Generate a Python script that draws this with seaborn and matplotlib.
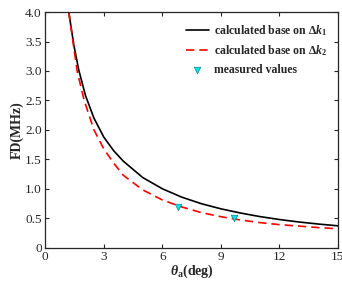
import pandas as pd
import matplotlib
matplotlib.use('Agg')
import matplotlib.pyplot as plt
import seaborn as sns

# curves: calculated base on dk1 (black) and dk2 (red)
theta_k1 = [1.21, 1.47, 1.72, 2.07, 2.5, 3.0, 3.5, 4.0, 5.0, 6.0, 7.0, 8.0, 9.0, 10.0, 11.0, 12.0, 13.0, 14.0, 15.0]
fd_k1 = [4.0, 3.44, 3.02, 2.58, 2.2, 1.88, 1.65, 1.47, 1.19, 1.0, 0.857, 0.746, 0.659, 0.588, 0.527, 0.477, 0.435, 0.40, 0.37]

theta_k2 = [1.21, 1.64, 2.0, 2.5, 3.0, 3.5, 4.0, 5.0, 6.0, 7.0, 8.0, 9.0, 10.0, 11.0, 12.0, 13.0, 14.0, 15.0]
fd_k2 = [4.0, 3.0, 2.5, 2.0, 1.68, 1.44, 1.23, 0.98, 0.81, 0.69, 0.595, 0.525, 0.47, 0.425, 0.39, 0.365, 0.34, 0.32]

theta_meas = [6.8, 9.7]
fd_meas = [0.69, 0.50]

x_ticks = [0, 3, 6, 9, 12, 15]
y_ticks = [0, 0.5, 1.0, 1.5, 2.0, 2.5, 3.0, 3.5, 4.0]
y_tick_labels = ['0', '0.5', '1.0', '1.5', '2.0', '2.5', '3.0', '3.5', '4.0']

sns.set_style('ticks')
plt.rcParams['font.family'] = ['Liberation Serif', 'DejaVu Serif']
plt.rcParams['mathtext.fontset'] = 'custom'
plt.rcParams['mathtext.rm'] = 'Liberation Serif:bold'
plt.rcParams['mathtext.it'] = 'Liberation Serif:italic:bold'
plt.rcParams['mathtext.bf'] = 'Liberation Serif:bold'

df1 = pd.DataFrame({'theta': theta_k1, 'fd': fd_k1})
df2 = pd.DataFrame({'theta': theta_k2, 'fd': fd_k2})
dfm = pd.DataFrame({'theta': theta_meas, 'fd': fd_meas})

fig = plt.figure(figsize=(3.42, 2.82), dpi=100)
ax = fig.add_axes([0.132, 0.122, 0.856, 0.835])

sns.lineplot(x='theta', y='fd', data=df1, color='black', linewidth=1.2,
             ax=ax, label=r'calculated base on $\Delta k_1$')
sns.lineplot(x='theta', y='fd', data=df2, color='red', linewidth=1.2,
             ax=ax, label=r'calculated base on $\Delta k_2$')
ax.lines[1].set_dashes((5, 3))
sns.scatterplot(x='theta', y='fd', data=dfm, marker='v', color='#00e5ee',
                edgecolor='#008c8c', linewidth=0.5, s=22, ax=ax,
                label='measured values', zorder=5)

ax.set_xlim(0, 15)
ax.set_ylim(0, 4)
ax.set_xticks(x_ticks)
ax.set_yticks(y_ticks)
ax.set_yticklabels(y_tick_labels)
ax.tick_params(direction='in', top=True, right=True, labelsize=9.5, length=3, width=0.8, pad=2.5)
for s in ax.spines.values():
    s.set_linewidth(0.9)

ax.set_xlabel(r'$\theta_\mathrm{a}$(deg)', fontsize=10, fontweight='bold', labelpad=0)
ax.set_ylabel('FD(MHz)', fontsize=10, fontweight='bold', labelpad=1)

leg = ax.legend(loc='upper right', frameon=False, fontsize=8.5, handlelength=2.0,
                handletextpad=0.4, labelspacing=0.5, borderaxespad=0.5)
for t in leg.get_texts():
    t.set_fontweight('bold')

fig.savefig('out.png', dpi=100)
